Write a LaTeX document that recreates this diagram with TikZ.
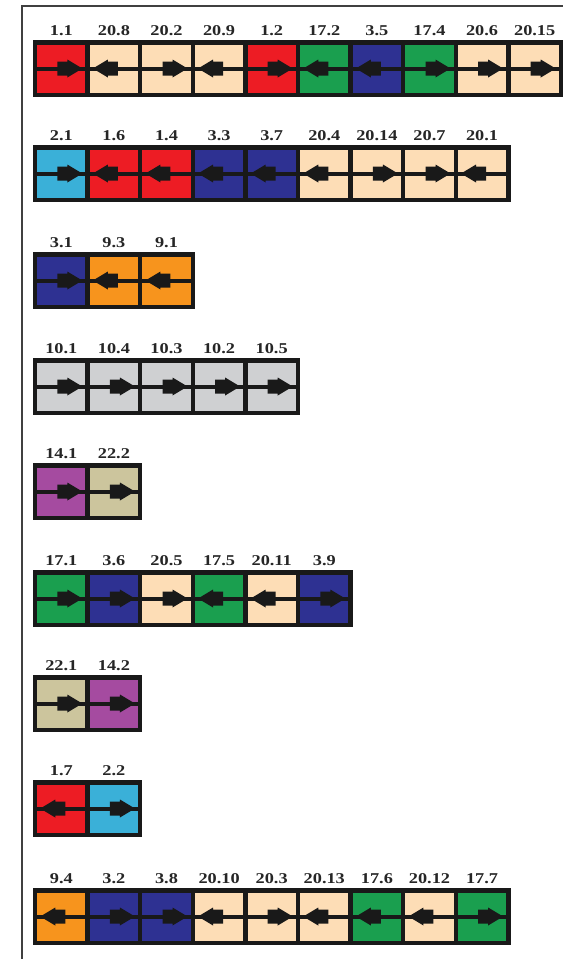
\documentclass[tikz,border=0pt]{standalone}
\usepackage{fontspec}
\setmainfont{Liberation Serif}[FakeStretch=1.22]
\usepackage{tikz}
\usetikzlibrary{decorations.markings}
\usepackage{xcolor}
\definecolor{red}{HTML}{ED1C24}
\definecolor{peach}{HTML}{FDDDB6}
\definecolor{green}{HTML}{1A9F4F}
\definecolor{blue}{HTML}{2E3192}
\definecolor{cyan}{HTML}{3AB0D8}
\definecolor{orange}{HTML}{F7941D}
\definecolor{grey}{HTML}{CFD0D2}
\definecolor{purple}{HTML}{A54BA0}
\definecolor{khaki}{HTML}{CCC59D}

\begin{document}
\begin{tikzpicture}[x=1pt,y=-1pt,
  cell/.style={draw=black!90,line width=4.5pt,minimum width=52.6pt,minimum height=52.5pt,inner sep=0pt,outer sep=0pt},
  tag/.style={font=\bfseries\fontsize{15}{15}\selectfont,text=black!85,inner sep=0pt,anchor=south},
  flow/.style={line width=4pt,black!90,postaction={decorate},
    decoration={markings,mark=at position 0.9 with {\fill[black!90] (0,0) -- (-15pt,9pt) -- (-15pt,7pt) -- (-25pt,7pt) -- (-25pt,-7pt) -- (-15pt,-7pt) -- (-15pt,-9pt) -- cycle;}}}]
\useasboundingbox (0,0) rectangle (563,959);
\fill[white] (0,0) rectangle (563,959);
\draw[line width=1.3pt,black!75] (22,959) -- (22,6) -- (563,6);
\foreach \r/\top/\list in {
  1/40/{red/1.1/r,peach/20.8/l,peach/20.2/r,peach/20.9/l,red/1.2/r,green/17.2/l,blue/3.5/l,green/17.4/r,peach/20.6/r,peach/20.15/r},
  2/145/{cyan/2.1/r,red/1.6/l,red/1.4/l,blue/3.3/l,blue/3.7/l,peach/20.4/l,peach/20.14/r,peach/20.7/r,peach/20.1/l},
  3/252/{blue/3.1/r,orange/9.3/l,orange/9.1/l},
  4/358/{grey/10.1/r,grey/10.4/r,grey/10.3/r,grey/10.2/r,grey/10.5/r},
  5/463/{purple/14.1/r,khaki/22.2/r},
  6/570/{green/17.1/r,blue/3.6/r,peach/20.5/r,green/17.5/l,peach/20.11/l,blue/3.9/r},
  7/675/{khaki/22.1/r,purple/14.2/r},
  8/780/{red/1.7/l,cyan/2.2/r},
  9/888/{orange/9.4/l,blue/3.2/r,blue/3.8/r,peach/20.10/l,peach/20.3/r,peach/20.13/l,green/17.6/l,peach/20.12/l,green/17.7/r}}
{
  \foreach \c/\t/\d [count=\i] in \list {
    \node[cell,fill=\c] (c-\r-\i) at (8.7+52.6*\i,\top+28.5) {};
    \node[tag] (l-\r-\i) at ([yshift=6pt]c-\r-\i.north) {\t};
    \if r\d
      \draw[flow] (c-\r-\i.west) -- (c-\r-\i.east);
    \else
      \draw[flow] (c-\r-\i.east) -- (c-\r-\i.west);
    \fi
  }
}
\end{tikzpicture}
\end{document}
